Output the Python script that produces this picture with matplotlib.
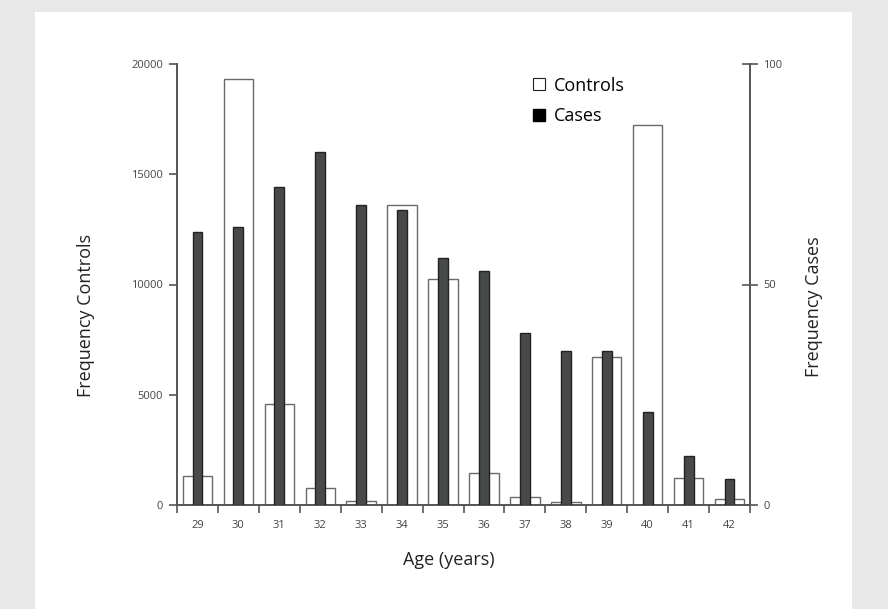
import numpy as np
import matplotlib
matplotlib.use('Agg')
import matplotlib.pyplot as plt
from matplotlib.lines import Line2D

plt.rcParams['font.family'] = ['Open Sans', 'DejaVu Sans']

# data
ages = ['29', '30', '31', '32', '33', '34', '35', '36', '37', '38', '39', '40', '41', '42']
controls = [1300, 19300, 4600, 750, 170, 13600, 10250, 1450, 350, 120, 6700, 17250, 1230, 270]
cases = [62, 63, 72, 80, 68, 67, 56, 53, 39, 35, 35, 21, 11, 6]

fig = plt.figure(figsize=(8.88, 6.09), dpi=100)
fig.patch.set_facecolor('#e8e8e8')

# white panel behind the chart
bg = fig.add_axes([35/888, 0, (852-35)/888, (609-12)/609], zorder=-1)
bg.set_facecolor('white')
bg.set_xticks([])
bg.set_yticks([])
for s in bg.spines.values():
    s.set_visible(False)

ax = fig.add_axes([177/888, 1-505/609, (750-177)/888, (505-64)/609], zorder=1)
ax.set_facecolor('none')
x = np.arange(len(ages))

ax.bar(x, controls, width=0.72, facecolor='white', edgecolor='#6a6a6a', linewidth=1.0, zorder=2)
ax.set_xlim(-0.5, len(ages)-0.5)
ax.set_ylim(0, 20000)
ax.set_yticks([0, 5000, 10000, 15000, 20000])
ax.set_yticklabels(['0', '5000', '10000', '15000', '20000'])

ax2 = ax.twinx()
ax2.bar(x, cases, width=0.24, facecolor='#474a48', edgecolor='#222222', linewidth=1.0, zorder=3)
ax2.set_ylim(0, 100)
ax2.set_yticks([0, 50, 100])

# x ticks at category boundaries, labels at centers
ax.set_xticks(np.arange(len(ages)+1) - 0.5)
ax.set_xticklabels([])
ax.set_xticks(x, minor=True)
ax.set_xticklabels(ages, minor=True)
ax.tick_params(axis='x', which='minor', length=0, pad=11, labelsize=8, labelcolor='#444444')
ax.tick_params(axis='x', which='major', direction='out', length=6, width=1.2, color='#555555')
ax.tick_params(axis='y', direction='out', length=6, width=1.2, color='#555555', labelsize=8,
               labelcolor='#444444', pad=4)
ax2.tick_params(axis='y', direction='inout', length=11, width=1.2, color='#555555', labelsize=8,
                labelcolor='#444444', pad=4)

for a in (ax, ax2):
    a.spines['top'].set_visible(False)
    for s in ('left', 'right', 'bottom'):
        a.spines[s].set_color('#555555')
        a.spines[s].set_linewidth(1.2)

ax.set_xlabel('Age (years)', fontsize=13, color='#222222', labelpad=14)
ax.xaxis.label.set_x(0.474)
ax.set_ylabel('Frequency Controls', fontsize=13, color='#222222', labelpad=26)
ax.yaxis.label.set_y(0.43)
ax2.set_ylabel('Frequency Cases', fontsize=13, color='#222222', labelpad=16)
ax2.yaxis.label.set_y(0.45)

handles = [Line2D([], [], marker='s', linestyle='none', markersize=9,
                  markerfacecolor='white', markeredgecolor='#222222', markeredgewidth=0.8),
           Line2D([], [], marker='s', linestyle='none', markersize=9,
                  markerfacecolor='black', markeredgecolor='black')]
ax2.legend(handles, ['Controls', 'Cases'], loc='upper left', bbox_to_anchor=(0.588, 1.008),
           frameon=False, fontsize=13, handletextpad=0.3, labelspacing=0.7,
           handlelength=1.0)

fig.savefig('out.png', dpi=100, facecolor=fig.get_facecolor())
